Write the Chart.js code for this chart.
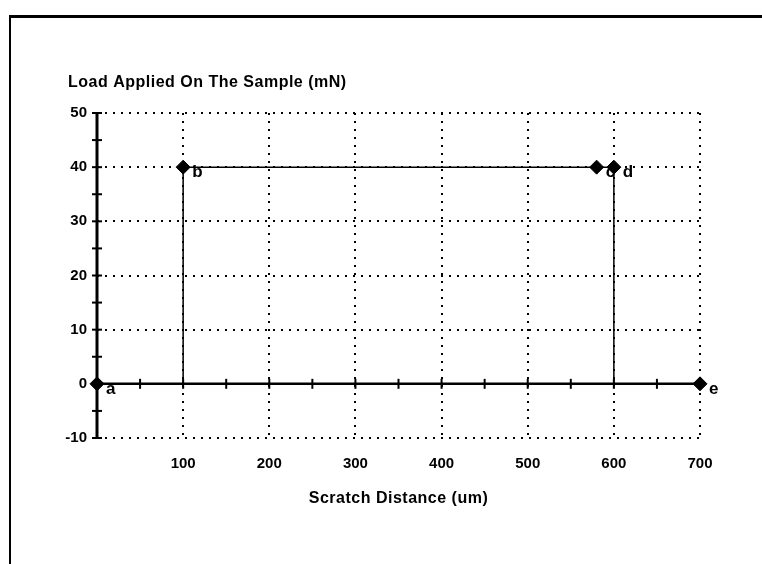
<!DOCTYPE html>
<html>
<head>
<meta charset="utf-8">
<script src="https://cdn.jsdelivr.net/npm/chart.js@4"></script>
<style>
  html, body { margin: 0; padding: 0; background: #fff; }
  #wrap { position: relative; width: 762px; height: 564px; overflow: hidden; }
  #frame { position: absolute; left: 9px; top: 15px; right: -4px; bottom: -4px;
           border-top: 3px solid #000; border-left: 2px solid #000; }
  canvas { position: absolute; left: 0; top: 0; }
</style>
</head>
<body>
<div id="wrap">
  <div id="frame"></div>
  <canvas id="chart" width="762" height="564"></canvas>
</div>
<script>
// scratch path: distance (um) vs applied load (mN)
const xValues = [0, 100, 100, 580, 600, 600, 700];
const yValues = [0, 0, 40, 40, 40, 0, 0];
const pointNames = ['a', '', 'b', 'c', 'd', '', 'e'];
const markerShown = [true, false, true, true, true, false, true];

const xTickLabels = [0, 100, 200, 300, 400, 500, 600, 700];
const yTickLabels = [-10, 0, 10, 20, 30, 40, 50];

const yTitle = 'Load Applied On The Sample (mN)';
const xTitle = 'Scratch Distance (um)';

const fontFamily = '"Liberation Sans", Arial, sans-serif';

const points = xValues.map((x, i) => ({ x: x, y: yValues[i] }));

const decor = {
    id: 'decor',
    beforeDatasetsDraw(chart) {
        const ctx = chart.ctx;
        const xs = chart.scales.x;
        const ys = chart.scales.y;
        const x0 = xs.getPixelForValue(0);
        const y0 = ys.getPixelForValue(0);

        ctx.save();
        ctx.strokeStyle = '#000';

        // zero line with its tick marks
        ctx.lineWidth = 2.5;
        ctx.beginPath();
        ctx.moveTo(x0, y0);
        ctx.lineTo(xs.getPixelForValue(xTickLabels[xTickLabels.length - 1]), y0);
        ctx.stroke();
        ctx.lineWidth = 2;
        for (let v = 50; v < 700; v += 50) {
            const px = xs.getPixelForValue(v);
            ctx.beginPath();
            ctx.moveTo(px, y0 - 5);
            ctx.lineTo(px, y0 + 5);
            ctx.stroke();
        }

        // y axis with tick marks
        ctx.lineWidth = 3;
        ctx.beginPath();
        ctx.moveTo(x0, ys.getPixelForValue(yTickLabels[yTickLabels.length - 1]));
        ctx.lineTo(x0, ys.getPixelForValue(yTickLabels[0]));
        ctx.stroke();
        ctx.lineWidth = 2;
        for (let v = -10; v <= 50; v += 5) {
            const py = ys.getPixelForValue(v);
            ctx.beginPath();
            ctx.moveTo(x0 - 5, py);
            ctx.lineTo(x0 + 5, py);
            ctx.stroke();
        }

        // point names (markers are drawn on top)
        ctx.fillStyle = '#000';
        ctx.font = 'bold 17px ' + fontFamily;
        ctx.textAlign = 'left';
        ctx.textBaseline = 'middle';
        pointNames.forEach((name, i) => {
            if (!name) return;
            const px = xs.getPixelForValue(xValues[i]);
            const py = ys.getPixelForValue(yValues[i]);
            ctx.fillText(name, px + 9, py + 5);
        });
        ctx.restore();
    },
    afterDraw(chart) {
        const ctx = chart.ctx;
        const area = chart.chartArea;
        ctx.save();
        ctx.fillStyle = '#000';
        ctx.font = 'bold 16px ' + fontFamily;
        ctx.letterSpacing = '0.5px';
        ctx.textBaseline = 'alphabetic';
        ctx.textAlign = 'left';
        ctx.fillText(yTitle, 68, 87);
        ctx.textAlign = 'center';
        ctx.fillText(xTitle, (area.left + area.right) / 2, 503);
        ctx.restore();
    }
};

const dotted = [2, 6];

new Chart(document.getElementById('chart'), {
    type: 'line',
    data: {
        datasets: [{
            data: points,
            borderColor: '#000',
            borderWidth: 1.5,
            backgroundColor: '#000',
            pointStyle: 'rectRot',
            pointRadius: markerShown.map(m => m ? 7 : 0),
            pointBackgroundColor: '#000',
            pointBorderColor: '#000',
            pointBorderWidth: 1,
            tension: 0,
            fill: false,
            clip: false
        }]
    },
    options: {
        responsive: false,
        animation: false,
        devicePixelRatio: 1,
        layout: { padding: { left: 0, right: 62, top: 113, bottom: 0 } },
        plugins: {
            legend: { display: false },
            tooltip: { enabled: false },
            title: { display: false }
        },
        scales: {
            x: {
                type: 'linear',
                min: xTickLabels[0],
                max: xTickLabels[xTickLabels.length - 1],
                afterBuildTicks: s => { s.ticks = xTickLabels.map(v => ({ value: v })); },
                afterFit: s => { s.height = 126; },
                ticks: {
                    color: '#000',
                    padding: 17,
                    maxRotation: 0,
                    font: { family: fontFamily, size: 15, weight: 'bold' },
                    callback: v => v === 0 ? '' : v
                },
                grid: {
                    drawTicks: false,
                    lineWidth: 2,
                    color: c => c.tick && c.tick.value === 0 ? 'rgba(0,0,0,0)' : '#000'
                },
                border: { display: false, dash: dotted }
            },
            y: {
                min: yTickLabels[0],
                max: yTickLabels[yTickLabels.length - 1],
                afterBuildTicks: s => { s.ticks = yTickLabels.map(v => ({ value: v })); },
                afterFit: s => { s.width = 97; },
                ticks: {
                    color: '#000',
                    padding: 10,
                    font: { family: fontFamily, size: 15, weight: 'bold' }
                },
                grid: {
                    drawTicks: false,
                    lineWidth: 2,
                    color: c => c.tick && c.tick.value === 0 ? 'rgba(0,0,0,0)' : '#000'
                },
                border: { display: false, dash: dotted }
            }
        }
    },
    plugins: [decor]
});
</script>
</body>
</html>
